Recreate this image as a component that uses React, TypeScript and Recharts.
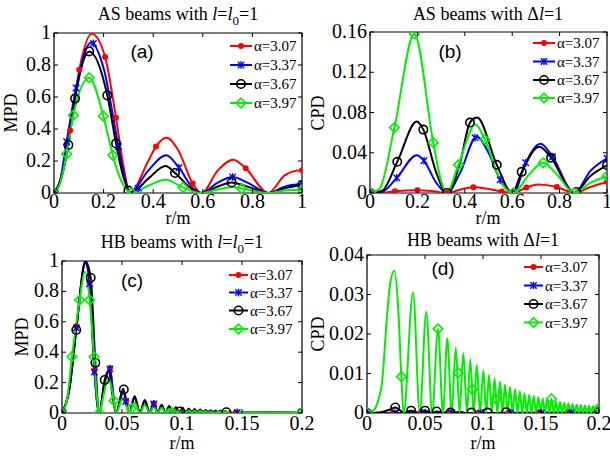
import React from "react";
import { ComposedChart, Line, Scatter, XAxis, YAxis, ReferenceArea } from "recharts";

type Pt = [number, number];

const legendLabels = ["α=3.07", "α=3.37", "α=3.67", "α=3.97"];
const colors = ["#ff0000", "#0000ff", "#000000", "#00ee00"];

const ticksAB = [0, 0.2, 0.4, 0.6, 0.8, 1];
const ticksCD = [0, 0.05, 0.1, 0.15, 0.2];
const yTicksA = [0, 0.2, 0.4, 0.6, 0.8, 1];
const yTicksB = [0, 0.04, 0.08, 0.12, 0.16];
const yTicksC = [0, 0.2, 0.4, 0.6, 0.8, 1];
const yTicksD = [0, 0.01, 0.02, 0.03, 0.04];

// (a) AS beams, MPD
const aRed: Pt[] = [[0, 0], [0.03, 0.1], [0.065, 0.39], [0.102, 0.77], [0.152, 0.995], [0.206, 0.85], [0.25, 0.47], [0.28, 0.17], [0.306, 0], [0.38, 0.2], [0.411, 0.29], [0.454, 0.345], [0.5, 0.27], [0.559, 0.06], [0.595, 0], [0.66, 0.14], [0.723, 0.208], [0.773, 0.154], [0.864, 0], [0.93, 0.11], [0.98, 0.14], [1, 0.142]];
const aRedMk: Pt[] = [[0, 0], [0.065, 0.39], [0.102, 0.77], [0.206, 0.85], [0.25, 0.47], [0.411, 0.29], [0.559, 0.06], [0.773, 0.154], [1, 0.142]];
const aBlue: Pt[] = [[0, 0], [0.025, 0.08], [0.051, 0.32], [0.089, 0.656], [0.149, 0.94], [0.2, 0.78], [0.26, 0.29], [0.285, 0.1], [0.306, 0], [0.38, 0.14], [0.452, 0.236], [0.504, 0.158], [0.56, 0.03], [0.595, 0], [0.66, 0.065], [0.72, 0.1], [0.78, 0.065], [0.864, 0], [0.93, 0.04], [1, 0.058]];
const aBlueMk: Pt[] = [[0, 0], [0.051, 0.32], [0.089, 0.656], [0.159, 0.935], [0.26, 0.29], [0.34, 0.03], [0.504, 0.158], [0.72, 0.1], [1, 0.058]];
const aBlack: Pt[] = [[0, 0], [0.025, 0.07], [0.058, 0.3], [0.085, 0.59], [0.142, 0.885], [0.215, 0.61], [0.25, 0.31], [0.28, 0.1], [0.31, 0], [0.38, 0.09], [0.45, 0.168], [0.488, 0.125], [0.56, 0.02], [0.595, 0], [0.66, 0.04], [0.716, 0.066], [0.78, 0.04], [0.864, 0], [0.93, 0.03], [1, 0.05]];
const aBlackMk: Pt[] = [[0, 0], [0.058, 0.3], [0.085, 0.59], [0.142, 0.885], [0.215, 0.61], [0.25, 0.31], [0.3, 0.015], [0.488, 0.125], [0.716, 0.066], [1, 0.05]];
const aGreen: Pt[] = [[0, 0], [0.025, 0.06], [0.051, 0.244], [0.078, 0.486], [0.142, 0.72], [0.199, 0.48], [0.237, 0.236], [0.27, 0.08], [0.313, 0], [0.38, 0.045], [0.45, 0.083], [0.52, 0.035], [0.595, 0], [0.66, 0.022], [0.72, 0.037], [0.757, 0.028], [0.864, 0], [0.93, 0.015], [1, 0.02]];
const aGreenMk: Pt[] = [[0, 0], [0.051, 0.244], [0.078, 0.486], [0.142, 0.72], [0.199, 0.48], [0.237, 0.236], [0.313, 0], [0.52, 0.035], [0.757, 0.028], [1, 0.02]];

// (b) AS beams, CPD
const bRed: Pt[] = [[0, 0], [0.05, 0.0003], [0.105, 0.0017], [0.2, 0.0028], [0.26, 0.002], [0.325, 0], [0.39, 0.004], [0.44, 0.0058], [0.5, 0.004], [0.556, 0.0015], [0.605, 0], [0.66, 0.0055], [0.71, 0.0085], [0.788, 0.006], [0.862, 0], [0.93, 0.006], [1, 0.011]];
const bRedMk: Pt[] = [[0, 0], [0.105, 0.0017], [0.2, 0.0028], [0.325, 0], [0.436, 0.0058], [0.556, 0.0015], [0.66, 0.0055], [0.788, 0.006], [1, 0.011]];
const bBlue: Pt[] = [[0, 0], [0.05, 0.001], [0.113, 0.015], [0.197, 0.0375], [0.228, 0.032], [0.28, 0.01], [0.325, 0], [0.38, 0.02], [0.45, 0.056], [0.5, 0.04], [0.549, 0.013], [0.605, 0], [0.657, 0.03], [0.72, 0.049], [0.77, 0.036], [0.862, 0], [0.93, 0.022], [1, 0.0345]];
const bBlueMk: Pt[] = [[0, 0], [0.113, 0.015], [0.228, 0.032], [0.443, 0.055], [0.549, 0.013], [0.657, 0.03], [0.77, 0.036], [1, 0.0345]];
const bBlack: Pt[] = [[0, 0], [0.05, 0.002], [0.115, 0.031], [0.197, 0.071], [0.225, 0.063], [0.28, 0.02], [0.325, 0], [0.38, 0.03], [0.422, 0.07], [0.452, 0.075], [0.535, 0.028], [0.6, 0], [0.64, 0.021], [0.715, 0.046], [0.764, 0.035], [0.862, 0], [0.93, 0.017], [1, 0.0275]];
const bBlackMk: Pt[] = [[0, 0], [0.115, 0.031], [0.225, 0.063], [0.325, 0], [0.422, 0.07], [0.535, 0.028], [0.64, 0.021], [0.764, 0.035], [0.87, 0.001], [1, 0.0275]];
const bGreen: Pt[] = [[0, 0], [0.04, 0.004], [0.103, 0.065], [0.187, 0.158], [0.267, 0.05], [0.3, 0.012], [0.323, 0], [0.373, 0.028], [0.445, 0.068], [0.485, 0.053], [0.55, 0.012], [0.605, 0], [0.67, 0.018], [0.73, 0.03], [0.79, 0.018], [0.862, 0], [0.93, 0.01], [1, 0.017]];
const bGreenMk: Pt[] = [[0, 0], [0.103, 0.065], [0.187, 0.158], [0.267, 0.05], [0.373, 0.028], [0.485, 0.053], [0.605, 0], [0.731, 0.03], [0.862, 0], [1, 0.017]];

// (c) HB beams, MPD
const cRed: Pt[] = [[0, 0], [0.006, 0.16], [0.012, 0.57], [0.0195, 0.99], [0.023, 0.86], [0.027, 0.28], [0.031, 0], [0.0355, 0.2], [0.04, 0.295], [0.043, 0.1], [0.045, 0], [0.051, 0.14], [0.056, 0], [0.0605, 0.1], [0.065, 0], [0.069, 0.08], [0.073, 0], [0.0765, 0.062], [0.0798, 0], [0.083, 0.05], [0.0862, 0], [0.095, 0.01], [0.2, 0]];
const cRedMk: Pt[] = [[0, 0], [0.012, 0.57], [0.023, 0.86], [0.027, 0.28], [0.04, 0.295], [0.0536, 0.08], [0.0765, 0.062], [0.145, 0.004]];
const cBlue: Pt[] = [[0, 0], [0.006, 0.15], [0.012, 0.56], [0.0195, 0.985], [0.023, 0.85], [0.027, 0.27], [0.031, 0], [0.0355, 0.2], [0.04, 0.29], [0.043, 0.1], [0.045, 0], [0.051, 0.14], [0.056, 0], [0.0605, 0.1], [0.065, 0], [0.069, 0.08], [0.073, 0], [0.0765, 0.06], [0.0798, 0], [0.083, 0.05], [0.0862, 0], [0.095, 0.01], [0.2, 0]];
const cBlueMk: Pt[] = [[0, 0], [0.012, 0.56], [0.023, 0.85], [0.027, 0.27], [0.04, 0.29], [0.053, 0.075], [0.0765, 0.06], [0.146, 0.004]];
const cBlack: Pt[] = [[0, 0], [0.006, 0.15], [0.0119, 0.546], [0.0195, 1.0], [0.0239, 0.89], [0.0278, 0.33], [0.031, 0], [0.0356, 0.217], [0.039, 0.28], [0.042, 0.12], [0.045, 0], [0.051, 0.16], [0.056, 0], [0.0605, 0.11], [0.065, 0], [0.069, 0.085], [0.073, 0], [0.0765, 0.066], [0.0798, 0], [0.083, 0.055], [0.0862, 0], [0.0893, 0.046], [0.0922, 0], [0.095, 0.039], [0.0978, 0], [0.1005, 0.034], [0.103, 0], [0.1056, 0.03], [0.108, 0], [0.1105, 0.026], [0.1128, 0], [0.1152, 0.023], [0.1174, 0], [0.1197, 0.02], [0.1218, 0], [0.124, 0.018], [0.126, 0], [0.1281, 0.016], [0.13, 0], [0.132, 0.014], [0.134, 0], [0.136, 0.012], [0.138, 0], [0.14, 0.011], [0.142, 0], [0.146, 0.006], [0.2, 0.002]];
const cBlackMk: Pt[] = [[0, 0], [0.0119, 0.546], [0.0239, 0.89], [0.0278, 0.33], [0.0356, 0.217], [0.0515, 0.155], [0.0985, 0.01], [0.137, 0.005], [0.2, 0.002]];
const cGreen: Pt[] = [[0, 0], [0.004, 0.08], [0.0083, 0.37], [0.0147, 0.743], [0.019, 0.93], [0.0231, 0.743], [0.0267, 0.37], [0.029, 0.12], [0.031, 0], [0.035, 0.13], [0.0385, 0.23], [0.0433, 0.08], [0.045, 0], [0.051, 0.1], [0.056, 0], [0.0605, 0.068], [0.065, 0], [0.069, 0.052], [0.073, 0], [0.0765, 0.042], [0.0798, 0], [0.083, 0.034], [0.0862, 0], [0.0893, 0.028], [0.0922, 0], [0.095, 0.023], [0.0978, 0], [0.1005, 0.02], [0.103, 0], [0.1056, 0.017], [0.108, 0], [0.1105, 0.015], [0.1128, 0], [0.1152, 0.013], [0.1174, 0], [0.1197, 0.011], [0.1218, 0], [0.124, 0.01], [0.126, 0], [0.13, 0.006], [0.2, 0.002]];
const cGreenMk: Pt[] = [[0, 0], [0.0083, 0.37], [0.0147, 0.743], [0.0231, 0.743], [0.0267, 0.37], [0.031, 0], [0.0433, 0.08], [0.058, 0.03], [0.092, 0.002], [0.2, 0.002]];

// (d) HB beams, CPD
const dRed: Pt[] = [[0, 0], [0.2, 0]];
const dRedMk: Pt[] = [[0, 0], [0.022, 0], [0.046, 0], [0.071, 0], [0.096, 0], [0.122, 0], [0.148, 0], [0.174, 0], [0.2, 0]];
const dBlue: Pt[] = [[0, 0], [0.2, 0]];
const dBlueMk: Pt[] = [[0, 0], [0.024, 0], [0.048, 0], [0.073, 0], [0.098, 0], [0.124, 0], [0.15, 0], [0.176, 0], [0.2, 0]];
const dBlack: Pt[] = [[0, 0], [0.012, 0.0002], [0.02, 0.0009], [0.0244, 0.0014], [0.029, 0.0006], [0.032, 0], [0.038, 0.0006], [0.0455, 0], [0.05, 0.0006], [0.0562, 0], [0.06, 0.0004], [0.0655, 0], [0.07, 0.0004], [0.073, 0], [0.08, 0.0003], [0.0862, 0], [0.2, 0.0002]];
const dBlackMk: Pt[] = [[0, 0], [0.0244, 0.0014], [0.038, 0.0006], [0.05, 0.0006], [0.06, 0.0004], [0.072, 0.0001], [0.09, 0.0001], [0.104, 0.0001], [0.12, 0.0002], [0.2, 0.0002]];
const dGreen: Pt[] = [[0, 0], [0.005, 0.0005], [0.01, 0.0035], [0.0129, 0.0075], [0.0172, 0.0244], [0.02, 0.0328], [0.0235, 0.036], [0.027, 0.026], [0.0296, 0.0092], [0.0316, 0],
  [0.0397, 0.0305], [0.0455, 0], [0.0511, 0.0256], [0.0562, 0], [0.0612, 0.0213], [0.0655, 0], [0.0692, 0.0189], [0.073, 0], [0.0765, 0.0165], [0.0798, 0], [0.083, 0.0152], [0.0862, 0],
  [0.089, 0.0136], [0.092, 0], [0.0946, 0.0122], [0.0975, 0], [0.1003, 0.0108], [0.1028, 0], [0.1052, 0.0096], [0.1076, 0], [0.11, 0.0087], [0.1123, 0], [0.1147, 0.0079], [0.1168, 0],
  [0.119, 0.0072], [0.1212, 0], [0.1233, 0.0066], [0.1254, 0], [0.1276, 0.006], [0.1297, 0], [0.1318, 0.0055], [0.1338, 0], [0.1358, 0.005], [0.1378, 0], [0.1398, 0.0046], [0.1418, 0],
  [0.1438, 0.0043], [0.1457, 0], [0.1477, 0.004], [0.1496, 0], [0.1515, 0.0037], [0.1534, 0], [0.1553, 0.0035], [0.1572, 0], [0.159, 0.0036], [0.161, 0], [0.1628, 0.003], [0.1646, 0],
  [0.1664, 0.0028], [0.1682, 0], [0.17, 0.0026], [0.1718, 0], [0.1736, 0.0024], [0.1754, 0], [0.1772, 0.0022], [0.179, 0], [0.1808, 0.0021], [0.1825, 0], [0.1843, 0.002], [0.186, 0],
  [0.1878, 0.0019], [0.1895, 0], [0.1913, 0.0018], [0.193, 0], [0.1948, 0.0017], [0.1965, 0], [0.1983, 0.0016], [0.2, 0.0013]];
const dGreenMk: Pt[] = [[0, 0], [0.0296, 0.0092], [0.0612, 0.0213], [0.0785, 0.0102], [0.091, 0.006], [0.1115, 0.0035], [0.159, 0.0036], [0.2, 0.0013]];

const toRows = (a: Pt[]) => a.map(([r, v]) => ({ r, v }));

const FONT = '"Liberation Serif", "Times New Roman", serif';

type Series = { line: Pt[]; marks: Pt[] };
type PanelCfg = {
  left: number; top: number; width: number; height: number;
  plot: { l: number; r: number; t: number; b: number };
  xMax: number; yMax: number; xTicks: number[]; yTicks: number[];
  labelDy: number; series: Series[];
};

function Mark({ kind, cx, cy }: { kind: number; cx: number; cy: number }) {
  const c = colors[kind];
  if (kind === 0) return <circle cx={cx} cy={cy} r={3} fill={c} />;
  if (kind === 1)
    return (
      <g stroke={c} strokeWidth={1.4}>
        <line x1={cx - 3.2} y1={cy - 3.2} x2={cx + 3.2} y2={cy + 3.2} />
        <line x1={cx - 3.2} y1={cy + 3.2} x2={cx + 3.2} y2={cy - 3.2} />
        <line x1={cx} y1={cy - 3.8} x2={cx} y2={cy + 3.8} />
      </g>
    );
  if (kind === 2) return <circle cx={cx} cy={cy} r={4.2} fill="none" stroke={c} strokeWidth={1.6} />;
  return <path d={`M${cx},${cy - 4.8}L${cx + 4.8},${cy}L${cx},${cy + 4.8}L${cx - 4.8},${cy}Z`} fill="none" stroke={c} strokeWidth={1.6} />;
}

function Panel({ cfg }: { cfg: PanelCfg }) {
  const { plot } = cfg;
  const xTick = ({ x, y, payload }: any) => (
    <g>
      <line x1={x} x2={x} y1={y} y2={y - 4} stroke="#000" />
      <line x1={x} x2={x} y1={plot.t} y2={plot.t + 4} stroke="#000" />
      <text x={x} y={y + cfg.labelDy} textAnchor="middle" fontSize={20} fontFamily={FONT} fill="#000">
        {String(payload.value)}
      </text>
    </g>
  );
  const yTick = ({ x, y, payload }: any) => (
    <g>
      <line x1={x} x2={x + 4} y1={y} y2={y} stroke="#000" />
      <line x1={plot.r - 4} x2={plot.r} y1={y} y2={y} stroke="#000" />
      <text x={x - 3} y={y + 6} textAnchor="end" fontSize={20} fontFamily={FONT} fill="#000">
        {String(payload.value)}
      </text>
    </g>
  );
  return (
    <div style={{ position: "absolute", left: cfg.left, top: cfg.top }}>
      <ComposedChart
        width={cfg.width}
        height={cfg.height}
        margin={{ top: plot.t, right: cfg.width - plot.r, left: 0, bottom: 0 }}
        style={{ overflow: "visible" }}
      >
        <XAxis type="number" dataKey="r" domain={[0, cfg.xMax]} ticks={cfg.xTicks} interval={0}
          height={cfg.height - plot.b} tickSize={0} tickMargin={0} axisLine={false} tickLine={false}
          tick={xTick} allowDataOverflow />
        <YAxis type="number" dataKey="v" domain={[0, cfg.yMax]} ticks={cfg.yTicks} interval={0}
          width={plot.l} tickSize={0} tickMargin={0} axisLine={false} tickLine={false}
          tick={yTick} allowDataOverflow />
        <ReferenceArea x1={0} x2={cfg.xMax} y1={0} y2={cfg.yMax} fill="none" fillOpacity={0} stroke="#000" strokeWidth={1.2} />
        {cfg.series.flatMap((s, i) => [
          <Line key={`l${i}`} data={toRows(s.line)} dataKey="v" type="monotone" stroke={colors[i]}
            strokeWidth={2} dot={false} activeDot={false} isAnimationActive={false} />,
          <Scatter key={`s${i}`} data={toRows(s.marks)} isAnimationActive={false}
            shape={(p: any) => <Mark kind={i} cx={p.cx} cy={p.cy} />} />,
        ])}
      </ComposedChart>
    </div>
  );
}

const panels: PanelCfg[] = [
  {
    left: 0, top: 0, width: 320, height: 230, plot: { l: 54, r: 302, t: 33, b: 193 },
    xMax: 1, yMax: 1, xTicks: ticksAB, yTicks: yTicksA, labelDy: 15,
    series: [{ line: aRed, marks: aRedMk }, { line: aBlue, marks: aBlueMk }, { line: aBlack, marks: aBlackMk }, { line: aGreen, marks: aGreenMk }],
  },
  {
    left: 305, top: 0, width: 305, height: 230, plot: { l: 65, r: 302, t: 32, b: 193 },
    xMax: 1, yMax: 0.16, xTicks: ticksAB, yTicks: yTicksB, labelDy: 15,
    series: [{ line: bRed, marks: bRedMk }, { line: bBlue, marks: bBlueMk }, { line: bBlack, marks: bBlackMk }, { line: bGreen, marks: bGreenMk }],
  },
  {
    left: 0, top: 230, width: 320, height: 230, plot: { l: 62, r: 302, t: 31, b: 183 },
    xMax: 0.2, yMax: 1, xTicks: ticksCD, yTicks: yTicksC, labelDy: 17,
    series: [{ line: cRed, marks: cRedMk }, { line: cBlue, marks: cBlueMk }, { line: cBlack, marks: cBlackMk }, { line: cGreen, marks: cGreenMk }],
  },
  {
    left: 305, top: 230, width: 305, height: 230, plot: { l: 62, r: 294, t: 25, b: 183 },
    xMax: 0.2, yMax: 0.04, xTicks: ticksCD, yTicks: yTicksD, labelDy: 17,
    series: [{ line: dRed, marks: dRedMk }, { line: dBlue, marks: dBlueMk }, { line: dBlack, marks: dBlackMk }, { line: dGreen, marks: dGreenMk }],
  },
];

// legend placement: line start/end, text x, row centres
const legends = [
  { x0: 230, x1: 252, tx: 254, rows: [46, 65, 84, 103] },
  { x0: 533, x1: 555, tx: 557, rows: [43, 61.5, 80, 98] },
  { x0: 229, x1: 248, tx: 250, rows: [275, 292.5, 310.5, 329] },
  { x0: 524, x1: 543, tx: 545, rows: [267, 285.5, 304, 322.5] },
];

function Overlay() {
  const t = { fontFamily: FONT, fill: "#000" } as const;
  return (
    <svg width={610} height={460} style={{ position: "absolute", left: 0, top: 0, pointerEvents: "none" }}>
      <text x={178} y={20} textAnchor="middle" fontSize={18} {...t}>
        AS beams with <tspan fontStyle="italic">l</tspan>=<tspan fontStyle="italic">l</tspan>
        <tspan fontSize={13} dy={5}>0</tspan><tspan dy={-5}>=1</tspan>
      </text>
      <text x={488} y={20} textAnchor="middle" fontSize={18} {...t}>
        AS beams with Δ<tspan fontStyle="italic">l</tspan>=1
      </text>
      <text x={182} y={248} textAnchor="middle" fontSize={18} {...t}>
        HB beams with <tspan fontStyle="italic">l</tspan>=<tspan fontStyle="italic">l</tspan>
        <tspan fontSize={13} dy={5}>0</tspan><tspan dy={-5}>=1</tspan>
      </text>
      <text x={483} y={246} textAnchor="middle" fontSize={18} {...t}>
        HB beams with Δ<tspan fontStyle="italic">l</tspan>=1
      </text>

      <text x={178} y={224} textAnchor="middle" fontSize={18} {...t}>r/m</text>
      <text x={488} y={224} textAnchor="middle" fontSize={18} {...t}>r/m</text>
      <text x={182} y={449} textAnchor="middle" fontSize={18} {...t}>r/m</text>
      <text x={483} y={449} textAnchor="middle" fontSize={18} {...t}>r/m</text>

      <text transform="translate(17,113) rotate(-90)" textAnchor="middle" fontSize={18} {...t}>MPD</text>
      <text transform="translate(324,113) rotate(-90)" textAnchor="middle" fontSize={18} {...t}>CPD</text>
      <text transform="translate(28,337) rotate(-90)" textAnchor="middle" fontSize={18} {...t}>MPD</text>
      <text transform="translate(324,334) rotate(-90)" textAnchor="middle" fontSize={18} {...t}>CPD</text>

      {[["(a)", 142, 58], ["(b)", 450, 58], ["(c)", 132, 287], ["(d)", 443, 275]].map(([s, x, y]) => (
        <text key={s as string} x={x as number} y={y as number} textAnchor="middle" fontSize={19}
          fontFamily='"Liberation Sans", Arial, sans-serif' fill="#000">{s}</text>
      ))}

      {legends.map((lg, p) =>
        lg.rows.map((y, i) => (
          <g key={`${p}-${i}`}>
            <line x1={lg.x0} x2={lg.x1} y1={y} y2={y} stroke={colors[i]} strokeWidth={2} />
            <Mark kind={i} cx={(lg.x0 + lg.x1) / 2} cy={y} />
            <text x={lg.tx} y={y + 5} fontSize={15} {...t}>{legendLabels[i]}</text>
          </g>
        ))
      )}
    </svg>
  );
}

export default function App() {
  return (
    <div style={{ position: "absolute", left: 0, top: 0, width: 610, height: 460, background: "#fff", overflow: "hidden" }}>
      {panels.map((cfg, i) => (
        <Panel key={i} cfg={cfg} />
      ))}
      <Overlay />
    </div>
  );
}
